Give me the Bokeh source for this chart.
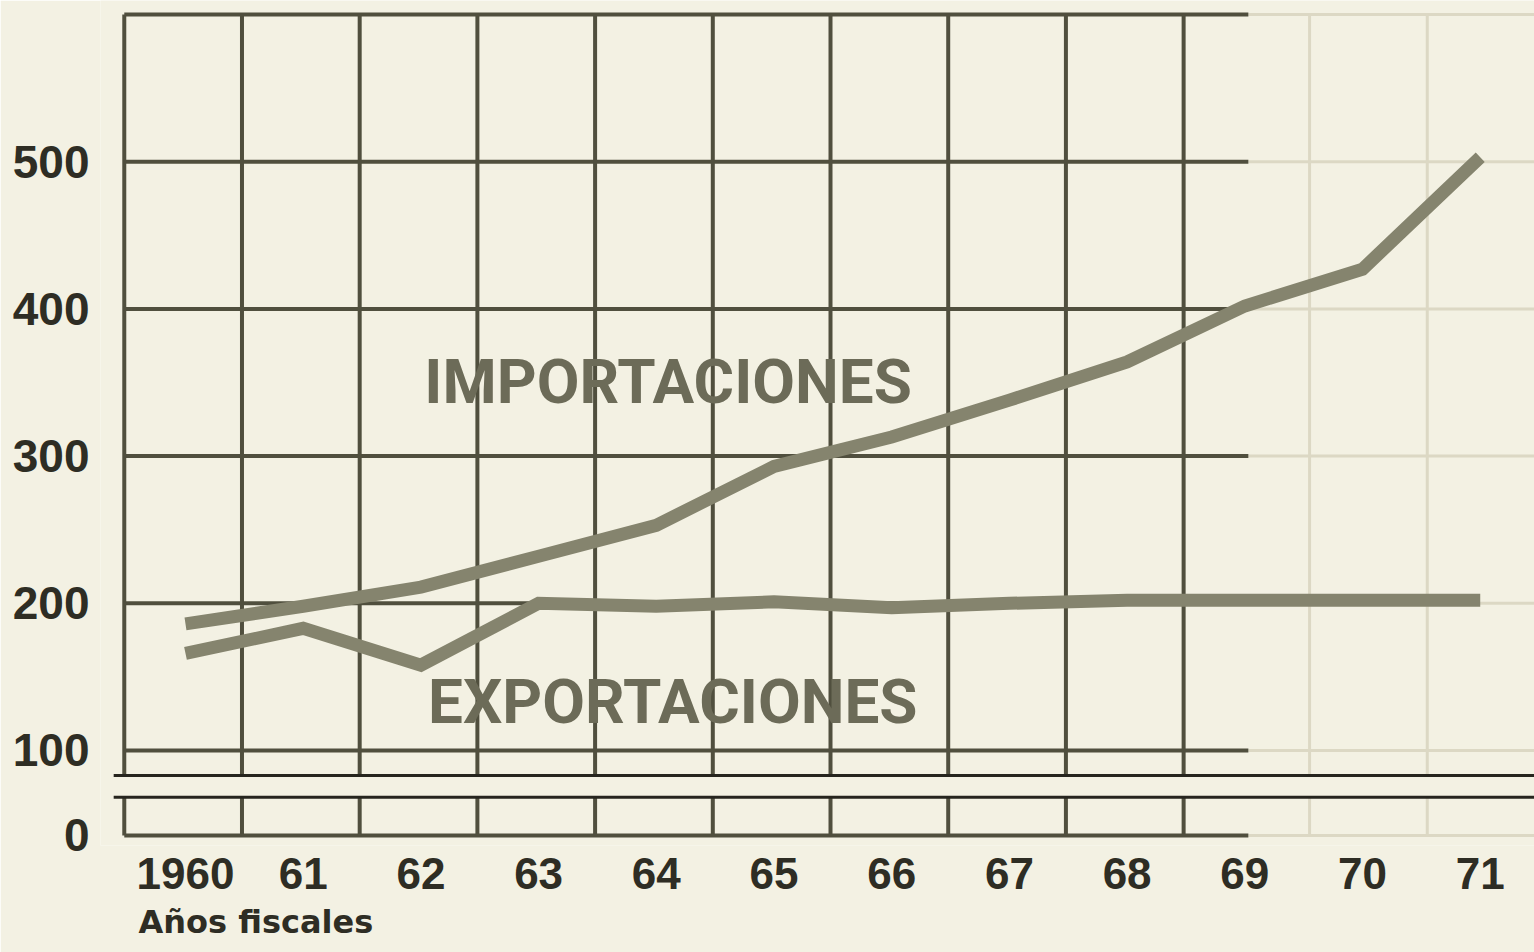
import numpy as np
from bokeh.plotting import figure
from bokeh.models import Range1d, FixedTicker, Label, Title
from bokeh.embed import file_html
from bokeh.resources import INLINE

# ---- data (millones de dólares, años fiscales) ----
years = ["1960", "61", "62", "63", "64", "65", "66", "67", "68", "69", "70", "71"]
importaciones = [186, 198, 211, 232, 253, 293, 313, 338, 364, 402, 427, 503]
exportaciones = [166, 183, 158, 200, 198, 201, 197, 200, 202, 202, 202, 202]
y_ticks = [100, 200, 300, 400, 500]
y_tick_labels = ["100", "200", "300", "400", "500"]

# broken axis: the "0" is drawn close under the break
ZERO_POS = 42.3
BREAK_UP, BREAK_LO = 83.0, 68.2
TOP = 600

xi = np.arange(len(years))

PAPER = "#f3f1e3"
INK = "#2e2d24"
GRID = "#504f3e"
FAINT = "#dcd8c4"
LINE = "#85846e"
FONT = "Liberation Sans"

X0, X1 = -0.722, 11.461
Y0, Y1 = 35.46, 609.5

p = figure(width=1534, height=952,
           x_range=Range1d(X0, X1), y_range=Range1d(Y0, Y1),
           output_backend="svg", toolbar_location=None,
           min_border_left=100, min_border_right=0, min_border_top=0, min_border_bottom=107)
p.background_fill_color = PAPER
p.border_fill_color = PAPER
p.outline_line_color = None
p.grid.visible = False

# ---- grid ----
x_left = -0.52
x_end = 9.03
x_right = X1
grid_x = np.concatenate([[x_left], np.arange(0, 9) + 0.48])
faint_x = np.arange(9, 11) + 0.55
h_levels = np.array(y_ticks + [TOP], dtype=float)
all_h = np.concatenate([[ZERO_POS], h_levels])

# faint continuation to the right
p.segment(x0=[x_end] * len(all_h), y0=all_h, x1=[x_right] * len(all_h), y1=all_h,
          line_color=FAINT, line_width=3)
p.segment(x0=faint_x, y0=[ZERO_POS] * len(faint_x), x1=faint_x, y1=[TOP] * len(faint_x),
          line_color=FAINT, line_width=3)
# dark grid
p.segment(x0=[x_left] * len(all_h), y0=all_h, x1=[x_end] * len(all_h), y1=all_h,
          line_color=GRID, line_width=4)
p.segment(x0=grid_x, y0=[ZERO_POS] * len(grid_x), x1=grid_x, y1=[TOP] * len(grid_x),
          line_color=GRID, line_width=4)
# axis break: blank band between two black rules
mid = (BREAK_UP + BREAK_LO) / 2
p.segment(x0=[-0.61], y0=[mid], x1=[x_right], y1=[mid], line_color=PAPER, line_width=19)
p.segment(x0=[-0.61, -0.61], y0=[BREAK_UP, BREAK_LO], x1=[x_right, x_right], y1=[BREAK_UP, BREAK_LO],
          line_color="#26251e", line_width=3)

# ---- series ----
p.line(xi, importaciones, line_color=LINE, line_width=13, line_cap="butt", line_join="miter")
p.line(xi, exportaciones, line_color=LINE, line_width=13, line_cap="butt", line_join="miter")

# ---- series labels ----
p.add_layout(Label(x=4.10, y=350.7, text="IMPORTACIONES", text_align="center", text_baseline="middle",
                   text_font="Roboto", text_font_style="bold", text_font_size="62px", text_color="#6c6b58"))
p.add_layout(Label(x=4.14, y=133.3, text="EXPORTACIONES", text_align="center", text_baseline="middle",
                   text_font="Roboto", text_font_style="bold", text_font_size="62px", text_color="#6c6b58"))

# ---- axes ----
p.yaxis.ticker = FixedTicker(ticks=[ZERO_POS] + y_ticks)
p.yaxis.major_label_overrides = {ZERO_POS: "0", **{t: l for t, l in zip(y_ticks, y_tick_labels)}}
p.xaxis.ticker = FixedTicker(ticks=list(xi))
p.xaxis.major_label_overrides = {int(i): y for i, y in zip(xi, years)}
for ax in (p.xaxis, p.yaxis):
    ax.axis_line_color = None
    ax.major_tick_line_color = None
    ax.minor_tick_line_color = None
    ax.major_label_text_font = FONT
    ax.major_label_text_font_style = "bold"
    ax.major_label_text_color = INK
p.yaxis.major_label_text_font_size = "46px"
p.xaxis.major_label_text_font_size = "44px"
p.yaxis.major_label_standoff = 5
p.xaxis.major_label_standoff = 6

p.add_layout(Title(text="Años fiscales", align="left", offset=38, standoff=18,
                   text_font="DejaVu Sans", text_font_style="bold", text_font_size="32px",
                   text_color=INK), "below")

open("out.html", "w").write(file_html(p, INLINE))
